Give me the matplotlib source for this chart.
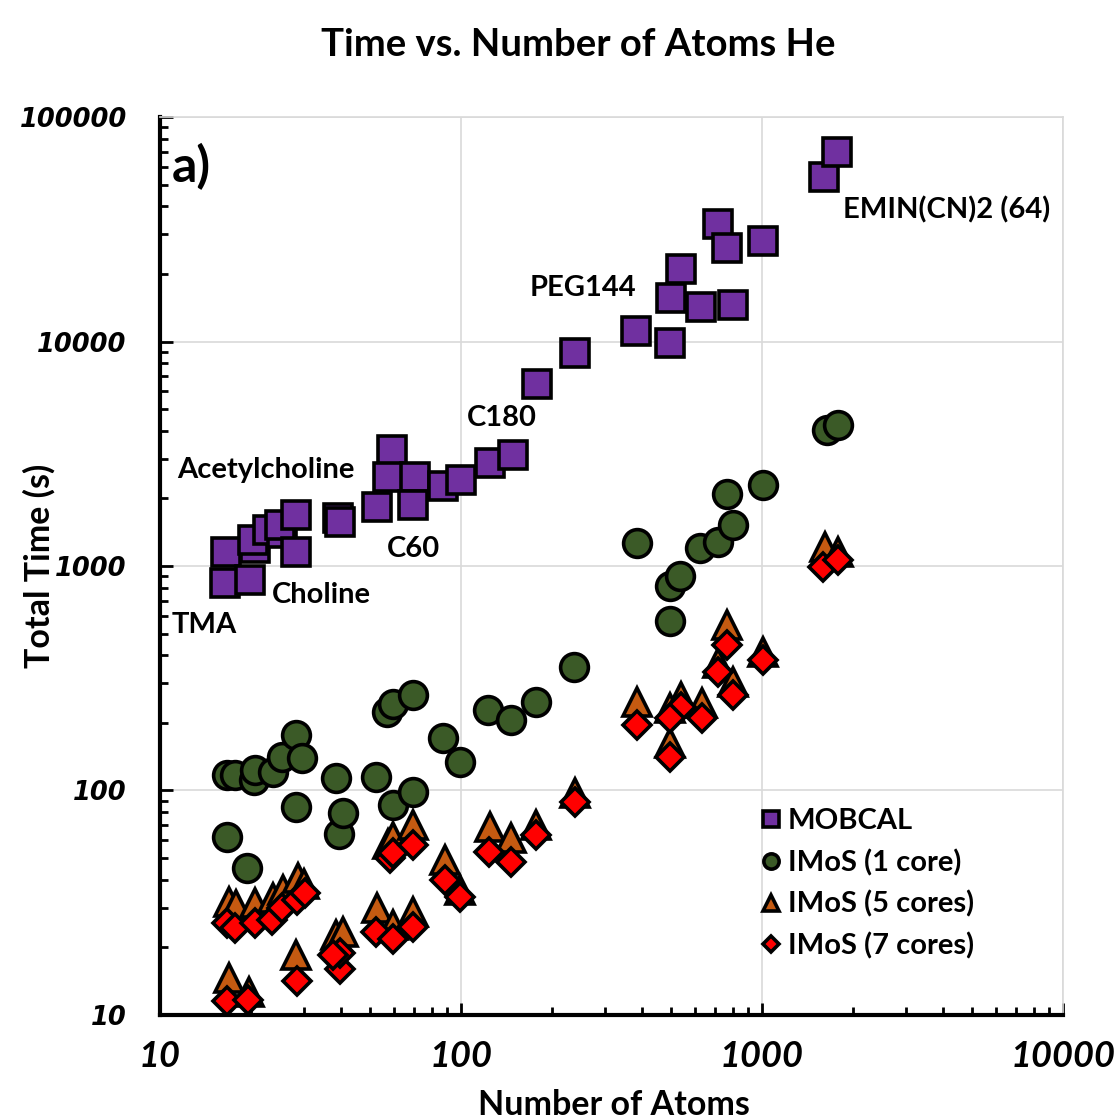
import matplotlib
matplotlib.use("Agg")
import matplotlib.pyplot as plt
from matplotlib.ticker import LogLocator, FixedLocator, NullFormatter

# ── Timing data (number of atoms vs. total time in seconds) ──────────────────
mobcal_atoms = [16.6, 16.4, 19.9, 20.7, 20.3, 22.9, 25.4, 25.0, 28.4, 28.4,
                39.1, 39.7, 52.5, 58.8, 57.3, 70.2, 69.3, 87.4, 99.7, 124.8,
                149, 179, 239, 381, 494, 498, 538, 627, 716, 763,
                799, 1005, 1607, 1771]
mobcal_time = [1158, 838, 870, 1199, 1306, 1447, 1398, 1523, 1158, 1687,
               1631, 1576, 1838, 3286, 2500, 2500, 1869, 2272, 2416, 2885,
               3122, 6470, 8890, 11170, 9820, 15570, 20970, 14290, 33370, 26010,
               14540, 28040, 53860, 70060]

imos1_atoms = [16.7, 16.7, 17.7, 19.5, 20.5, 20.7, 23.8, 25.4, 28.4, 28.4,
               29.6, 38.4, 39.4, 40.5, 52.2, 56.6, 59.3, 59.3, 69.1, 69.1,
               87.4, 99.2, 123, 146.6, 178, 237, 383, 494, 494, 534,
               622, 716, 763, 803, 1007, 1644, 1789]
imos1_time = [117, 62.3, 117, 45, 111, 123, 121, 141, 176.6, 84.7,
              139, 114, 63.8, 79.1, 115, 224, 244, 86, 266, 98.8,
              171, 134, 228, 207, 249, 356, 1262, 571, 815, 903,
              1199, 1283, 2093, 1523, 2296, 4034, 4246]

imos5_atoms = [16.9, 17.9, 20.7, 23.8, 25.7, 28.8, 30.0, 16.9, 19.8, 28.4,
               38.4, 40.6, 52.5, 57.3, 59.3, 69.3, 59.6, 69.3, 88.5, 99.2,
               124.8, 147, 178, 239, 383, 496, 494, 538, 630, 716,
               767, 803, 1010, 1619, 1790]
imos5_time = [32, 30.9, 31.4, 33.1, 36, 40.6, 38.5, 14.6, 12.7, 18.5,
              22.7, 23.5, 29.9, 58, 62.2, 70.2, 25.2, 28.8, 49, 36,
              69, 61.2, 70.2, 97.2, 249, 162, 233, 262, 245, 370,
              546, 305, 415, 1219, 1158]

imos7_atoms = [16.7, 17.8, 20.7, 23.5, 25.4, 28.6, 30.3, 16.7, 19.6, 28.6,
               39.7, 39.7, 37.5, 52.2, 59.6, 69.3, 58.2, 59.6, 69.3, 88.5,
               99.2, 124, 147, 178, 239, 383, 538, 494, 630, 496,
               716, 767, 803, 1010, 1592, 1790]
imos7_time = [25.6, 24.3, 25.6, 26.5, 29.9, 32.5, 34.8, 11.5, 11.7, 14.1,
              16.1, 18.8, 18.5, 23.5, 21.7, 24.7, 49.9, 52.5, 57.1, 39.9,
              33.7, 53.4, 48.2, 63.4, 89.2, 196, 236, 210, 210, 141,
              338, 445, 266, 381, 993, 1063]

# molecule labels and where they sit (atoms, seconds)
label_text = ["EMIN(CN)2 (64)", "PEG144", "C180", "Acetylcholine", "C60", "Choline", "TMA"]
label_x = [1858, 254, 137, 22.5, 69.3, 34.3, 14.0]
label_y = [38500, 17300, 4560, 2680, 1190, 743, 546]
label_ha = ["left", "center", "center", "center", "center", "center", "center"]

x_ticks = [10, 100, 1000, 10000]
y_ticks = [10, 100, 1000, 10000, 100000]

# ── Figure ────────────────────────────────────────────────────────────────────
FONT = "Lato"
fig = plt.figure(figsize=(11.16, 11.2), dpi=100)
ax = fig.add_axes([0.1434, 0.0938, 0.8091, 0.8017])

edge = dict(markeredgecolor="black", markeredgewidth=2.6, linestyle="none")
ax.plot(mobcal_atoms, mobcal_time, "s", color="#7030A0", markersize=20.5,
        label="MOBCAL", **edge)
ax.plot(imos1_atoms, imos1_time, "o", color="#3B5A27", markersize=20,
        label="IMoS (1 core)", **edge)
ax.plot(imos5_atoms, imos5_time, "^", color="#C55A11", markersize=20.5,
        label="IMoS (5 cores)", **edge)
ax.plot(imos7_atoms, imos7_time, "D", color="#FF0000", markersize=14,
        label="IMoS (7 cores)", **edge)

ax.set_xscale("log")
ax.set_yscale("log")
ax.set_xlim(10, 10000)
ax.set_ylim(10, 100000)

ax.xaxis.set_major_locator(FixedLocator(x_ticks))
ax.yaxis.set_major_locator(FixedLocator(y_ticks))
ax.xaxis.set_minor_locator(LogLocator(base=10, subs=range(2, 10)))
ax.yaxis.set_minor_locator(LogLocator(base=10, subs=range(2, 10)))
ax.xaxis.set_minor_formatter(NullFormatter())
ax.yaxis.set_minor_formatter(NullFormatter())
ax.set_xticklabels([str(v) for v in x_ticks], fontfamily=FONT,
                   fontweight="bold", fontstyle="italic", fontsize=26)
ax.set_yticklabels([str(v) for v in y_ticks], fontfamily="DejaVu Sans",
                   fontweight="bold", fontstyle="italic", fontsize=18.5)

ax.tick_params(which="both", direction="in", width=2, color="black",
               top=False, right=False)
ax.tick_params(which="major", length=9)
ax.tick_params(which="minor", length=6)
ax.tick_params(axis="x", which="major", pad=18)
ax.tick_params(axis="y", which="major", pad=24)

ax.grid(True, which="major", color="#D9D9D9", linewidth=1.2)
ax.set_axisbelow(True)
for side in ("left", "bottom"):
    ax.spines[side].set_linewidth(3)
    ax.spines[side].set_color("black")
for side in ("top", "right"):
    ax.spines[side].set_linewidth(1.2)
    ax.spines[side].set_color("#D9D9D9")

ax.set_xlabel("Number of Atoms", fontfamily=FONT, fontweight="bold", fontsize=24.5)
ax.xaxis.set_label_coords(0.503, -0.082)
ax.set_ylabel("Total Time (s)", fontfamily=FONT, fontweight="bold", fontsize=24.5)
ax.yaxis.set_label_coords(-0.116, 0.5)
fig.text(0.518, 0.96, "Time vs. Number of Atoms He", ha="center", va="center",
         fontfamily=FONT, fontweight="bold", fontsize=27.5)

ax.text(0.013, 0.945, "a)", transform=ax.transAxes, ha="left", va="center",
        fontfamily=FONT, fontweight="bold", fontsize=36)

for txt, lx, ly, ha in zip(label_text, label_x, label_y, label_ha):
    ax.text(lx, ly, txt, ha=ha, va="center", fontfamily=FONT,
            fontweight="bold", fontsize=21)

ax.legend(loc="upper left", bbox_to_anchor=(0.655, 0.243), frameon=False,
          markerscale=0.55, handlelength=0.55, handletextpad=0.3,
          labelspacing=0.5, borderaxespad=0,
          prop=dict(family=FONT, weight="bold", size=21))

fig.savefig("out.png", dpi=100)
